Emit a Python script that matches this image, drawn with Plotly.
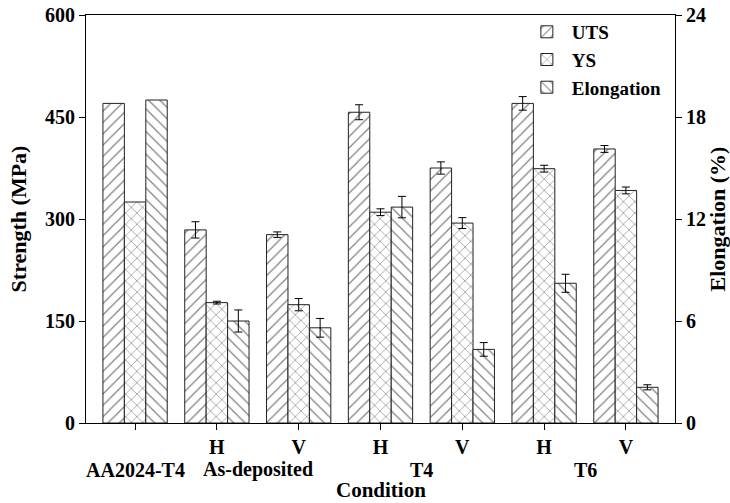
import plotly.graph_objects as go

# ---- data ----
positions = [0, 1, 2, 3, 4, 5, 6]
tick_labels = ["", "H", "V", "H", "V", "H", "V"]
group_labels = ["AA2024-T4", "As-deposited", "T4", "T6"]
group_centers = [0, 1.5, 3.5, 5.5]

uts = [470, 284, 277, 457, 375, 470, 403]
uts_err = [0, 12, 4, 11, 9, 10, 5]
ys = [325, 177, 174, 310, 294, 374, 342]
ys_err = [0, 2, 9, 5, 8, 5, 5]
elong = [19.0, 6.0, 5.6, 12.7, 4.33, 8.22, 2.1]
elong_err = [0, 0.65, 0.55, 0.63, 0.4, 0.53, 0.15]

FONT = "Liberation Serif"
W = 0.262

series = [
    ("UTS", uts, uts_err, "/", -1.5 * W, "y"),
    ("YS", ys, ys_err, "x", -0.5 * W, "y"),
    ("Elongation", elong, elong_err, "\\", 0.5 * W, "y2"),
]

fig = go.Figure()
for name, y, err, shape, off, axis in series:
    marker = dict(color="white", line=dict(color="#222222", width=1),
                  pattern=dict(shape=shape, fgcolor="black", bgcolor="white",
                               size=8, solidity=0.15))
    # reference material (first category) has no error bars
    fig.add_trace(go.Bar(name=name, x=positions[:1], y=y[:1], yaxis=axis,
                         width=W, offset=off, marker=marker, showlegend=False,
                         legendgroup=name))
    fig.add_trace(go.Bar(name=name, x=positions[1:], y=y[1:], yaxis=axis,
                         width=W, offset=off, marker=marker, legendgroup=name,
                         error_y=dict(type="data", array=err[1:], visible=True,
                                      color="black", thickness=1, width=4)))

tf = dict(family=FONT, size=20, color="black", weight="bold")
titf = dict(family=FONT, size=22, color="black", weight="bold")

for lab, cx in zip(group_labels, group_centers):
    fig.add_annotation(x=cx, xref="x", y=-0.115, yref="paper", text=lab,
                       showarrow=False, font=tf, yanchor="middle")

fig.add_annotation(x=0.5, xref="paper", y=-0.165, yref="paper", text="Condition",
                   showarrow=False, font=dict(family=FONT, size=21, color="black", weight="bold"),
                   yanchor="middle")

fig.update_layout(
    width=730, height=503,
    margin=dict(l=86, r=55, t=15, b=80, autoexpand=False),
    paper_bgcolor="white", plot_bgcolor="white",
    showlegend=True,
    legend=dict(x=0.74, y=1.005, xanchor="left", yanchor="top",
                font=dict(family=FONT, size=19, color="black", weight="bold"),
                bgcolor="rgba(0,0,0,0)", tracegroupgap=0, itemwidth=40),
    xaxis=dict(range=[-0.6, 6.6], tickmode="array", tickvals=positions,
               ticktext=tick_labels, ticks="outside", ticklen=6, tickcolor="black",
               showline=True, linecolor="black", linewidth=1, mirror=True,
               showgrid=False, zeroline=False, tickfont=tf, automargin=False),
    yaxis=dict(title=dict(text="Strength (MPa)", font=titf, standoff=12),
               range=[0, 600], tickvals=[0, 150, 300, 450, 600],
               ticks="outside", ticklen=6, tickcolor="black",
               showline=True, linecolor="black", linewidth=1,
               showgrid=False, zeroline=False, tickfont=tf, automargin=False),
    yaxis2=dict(title=dict(text="Elongation (%)", font=titf, standoff=6),
                overlaying="y", side="right",
                range=[0, 24], tickvals=[0, 6, 12, 18, 24],
                ticks="outside", ticklen=6, tickcolor="black",
                showline=True, linecolor="black", linewidth=1,
                showgrid=False, zeroline=False, tickfont=tf, automargin=False),
)

fig.write_html("out.html", config={"displayModeBar": False},
               post_script="document.body.style.margin='0';document.body.style.overflow='hidden';")
